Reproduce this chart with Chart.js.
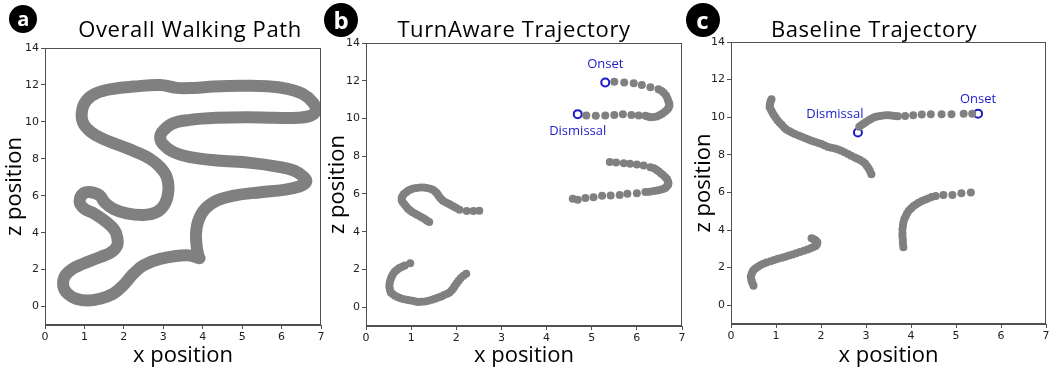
<!DOCTYPE html>
<html>
<head>
<meta charset="utf-8">
<script src="https://cdn.jsdelivr.net/npm/chart.js@4.4.1/dist/chart.umd.min.js"></script>
<style>
  html, body { margin:0; padding:0; background:#fff; }
  body { width:1052px; height:371px; position:relative; overflow:hidden; font-family:"Open Sans", "Noto Sans", sans-serif; }
  .panel { position:absolute; }
  .ptitle { position:absolute; font-size:22px; letter-spacing:0.6px; line-height:1; color:#000; white-space:nowrap; transform:translateX(-50%); }
  .badge { position:absolute; border-radius:50%; background:#000; color:#fff; font-weight:700;
           display:flex; align-items:center; justify-content:center; line-height:1; }
</style>
</head>
<body>
<script>
// ---------------- DATA ----------------
const xTicks = [0, 1, 2, 3, 4, 5, 6, 7];
const zTicks = [0, 2, 4, 6, 8, 10, 12, 14];

// Panel a: overall walking path [x, z]
const walkPath = [
  [3.92,2.62],[3.60,2.78],[2.92,2.58],[2.49,2.22],[2.24,1.77],[1.98,1.14],[1.73,0.69],[1.39,0.42],
  [1.09,0.32],[0.79,0.42],[0.58,0.69],[0.47,1.05],[0.49,1.59],[0.66,1.99],[0.96,2.31],[1.39,2.67],
  [1.68,2.94],[1.83,3.30],[1.83,3.75],[1.77,4.12],[1.56,4.57],[1.26,5.02],[1.00,5.29],[0.88,5.65],
  [0.96,6.10],[1.17,6.19],[1.39,6.01],[1.51,5.65],[1.73,5.29],[2.07,5.05],[2.49,4.96],[2.83,5.11],
  [3.04,5.56],[3.13,6.28],[3.09,7.00],[2.92,7.55],[2.66,8.00],[2.32,8.36],[1.90,8.72],[1.47,9.08],
  [1.17,9.44],[0.96,9.98],[0.94,10.61],[1.05,11.16],[1.30,11.55],[1.73,11.79],[2.24,11.91],[2.92,12.00],
  [3.34,11.84],[3.77,11.84],[4.28,11.91],[4.96,11.95],[5.64,11.93],[6.15,11.79],[6.53,11.52],[6.79,11.06],
  [6.87,10.61],[6.74,10.34],[6.40,10.22],[5.81,10.22],[5.13,10.25],[4.36,10.22],[3.68,10.11],[3.26,9.93],
  [3.00,9.53],[2.92,9.17],[3.00,8.77],[3.26,8.36],[3.68,8.09],[4.36,7.91],[5.21,7.78],[5.89,7.58],
  [6.32,7.36],[6.57,7.00],[6.62,6.73],[6.45,6.50],[6.06,6.32],[5.47,6.19],[4.79,6.01],[4.36,5.74],
  [4.06,5.29],[3.89,4.66],[3.83,3.94],[3.85,3.21],[3.90,2.66]
];

// Panel b: TurnAware trajectory segments [x, z]
const taSeg1 = [
  [5.50,11.94],[5.72,11.91],[5.93,11.87],[6.11,11.78],[6.30,11.66],[6.48,11.55],[6.55,11.45],[6.60,11.35],
  [6.65,11.20],[6.68,11.05],[6.70,10.90],[6.72,10.78],[6.72,10.67],[6.70,10.56],[6.67,10.46],[6.62,10.35],
  [6.56,10.25],[6.50,10.17],[6.44,10.11],[6.37,10.08],[6.30,10.07],[6.24,10.10],[6.19,10.14],[6.04,10.16],
  [5.88,10.19],[5.69,10.23],[5.50,10.19],[5.30,10.16],[5.09,10.14],[4.88,10.16]
];
const taSeg2 = [
  [5.40,7.69],[5.54,7.67],[5.71,7.63],[5.85,7.60],[6.00,7.56],[6.15,7.51],[6.30,7.42],[6.38,7.36],
  [6.43,7.28],[6.48,7.20],[6.53,7.10],[6.58,7.00],[6.63,6.89],[6.67,6.78],[6.69,6.66],[6.70,6.57],
  [6.69,6.48],[6.66,6.40],[6.63,6.31],[6.58,6.26],[6.52,6.22],[6.45,6.18],[6.37,6.15],[6.28,6.12],
  [6.19,6.10],[6.00,6.04],[5.79,6.01],[5.62,5.95],[5.42,5.92],[5.23,5.90],[5.04,5.83],[4.86,5.79],
  [4.69,5.69],[4.58,5.74]
];
const taSeg3 = [
  [1.40,4.51],[1.35,4.58],[1.31,4.66],[1.25,4.74],[1.20,4.81],[1.14,4.88],[1.09,4.95],[1.03,5.03],
  [0.98,5.12],[0.93,5.22],[0.89,5.34],[0.85,5.45],[0.81,5.57],[0.79,5.68],[0.79,5.78],[0.81,5.89],
  [0.84,5.99],[0.89,6.09],[0.94,6.18],[0.99,6.24],[1.05,6.29],[1.12,6.32],[1.20,6.34],[1.28,6.34],
  [1.35,6.31],[1.42,6.27],[1.48,6.22],[1.53,6.13],[1.57,6.04],[1.60,5.93],[1.63,5.83],[1.67,5.72],
  [1.71,5.62],[1.77,5.55],[1.83,5.48],[1.88,5.41],[1.94,5.34],[2.00,5.25],[2.07,5.16],[2.23,5.09],
  [2.38,5.09],[2.51,5.11]
];
const taSeg4 = [
  [0.98,2.33],[0.86,2.21],[0.80,2.14],[0.74,2.07],[0.69,1.98],[0.64,1.89],[0.60,1.76],[0.57,1.63],
  [0.55,1.50],[0.53,1.36],[0.52,1.21],[0.52,1.06],[0.53,0.92],[0.55,0.78],[0.59,0.69],[0.64,0.60],
  [0.70,0.54],[0.75,0.48],[0.82,0.43],[0.90,0.39],[0.96,0.36],[1.03,0.34],[1.10,0.30],[1.16,0.27],
  [1.23,0.28],[1.31,0.30],[1.38,0.34],[1.46,0.39],[1.53,0.45],[1.60,0.51],[1.67,0.57],[1.73,0.64],
  [1.80,0.71],[1.85,0.78],[1.90,0.89],[1.94,1.01],[1.97,1.14],[2.01,1.27],[2.05,1.40],[2.10,1.54],
  [2.16,1.66],[2.22,1.77]
];
const taOnset = [5.30, 11.91];
const taDismissal = [4.69, 10.23];

// Panel c: Baseline trajectory segments [x, z]
const blSeg1 = [
  [5.36,10.19],[5.17,10.19],[4.90,10.16],[4.68,10.16],[4.44,10.16],[4.24,10.14],[4.05,10.11],[3.87,10.07],
  [3.71,10.05],[3.64,10.07],[3.57,10.09],[3.50,10.10],[3.43,10.10],[3.35,10.08],[3.28,10.05],[3.22,10.02],
  [3.17,9.98],[3.11,9.91],[3.06,9.84],[3.00,9.75],[2.95,9.66],[2.90,9.58],[2.85,9.49]
];
const blSeg2 = [
  [0.90,10.96],[0.88,10.85],[0.87,10.73],[0.86,10.62],[0.86,10.51],[0.89,10.38],[0.92,10.25],[0.95,10.12],
  [0.99,9.98],[1.03,9.84],[1.08,9.70],[1.13,9.58],[1.18,9.45],[1.23,9.35],[1.29,9.26],[1.35,9.18],
  [1.42,9.10],[1.50,9.03],[1.57,8.96],[1.65,8.88],[1.72,8.81],[1.79,8.75],[1.86,8.69],[1.94,8.63],
  [2.01,8.57],[2.08,8.50],[2.16,8.42],[2.23,8.38],[2.31,8.34],[2.38,8.28],[2.45,8.21],[2.52,8.13],
  [2.60,8.04],[2.67,7.95],[2.75,7.86],[2.81,7.79],[2.87,7.72],[2.93,7.63],[2.98,7.54],[3.02,7.40],
  [3.06,7.27],[3.09,7.12],[3.12,6.97]
];
const blSeg3 = [
  [5.33,6.00],[5.12,5.95],[4.92,5.86],[4.72,5.86],[4.55,5.81],[4.46,5.75],[4.38,5.68],[4.31,5.61],
  [4.24,5.54],[4.17,5.45],[4.11,5.36],[4.05,5.26],[4.00,5.15],[3.95,5.02],[3.91,4.88],[3.88,4.72],
  [3.85,4.57],[3.83,4.39],[3.82,4.21],[3.81,4.02],[3.81,3.82],[3.81,3.65],[3.82,3.47],[3.82,3.28],
  [3.83,3.08]
];
const blSeg4 = [
  [0.50,1.03],[0.48,1.15],[0.46,1.26],[0.45,1.39],[0.44,1.52],[0.46,1.66],[0.48,1.79],[0.51,1.88],
  [0.55,1.96],[0.60,2.05],[0.66,2.14],[0.72,2.21],[0.79,2.27],[0.88,2.34],[0.96,2.41],[1.04,2.47],
  [1.13,2.53],[1.21,2.58],[1.29,2.64],[1.37,2.70],[1.45,2.76],[1.53,2.83],[1.62,2.90],[1.70,2.96],
  [1.77,3.03],[1.83,3.09],[1.88,3.15],[1.91,3.24],[1.92,3.33],[1.90,3.40],[1.87,3.47],[1.83,3.52],
  [1.79,3.56]
];
const blOnset = [5.49, 10.19];
const blDismissal = [2.82, 9.19];

const panelTitles = ['Overall Walking Path', 'TurnAware Trajectory', 'Baseline Trajectory'];
const panelLetters = ['a', 'b', 'c'];
const xAxisLabel = 'x position';
const zAxisLabel = 'z position';
const onsetText = 'Onset';
const dismissalText = 'Dismissal';

// ---------------- STYLE ----------------
const GRAY = '#808080';
const BLUE = '#1c1cc8';
const AXIS = '#505050';
const TICKFONT = { family: 'DejaVu Sans', size: 11 };
const TITLEFONT = { family: 'Open Sans', size: 22 };

const toXY = arr => arr.map(p => ({ x: p[0], y: p[1] }));

const framePlugin = {
  id: 'frame',
  afterDraw(chart) {
    const { ctx, chartArea: a } = chart;
    ctx.save();
    ctx.strokeStyle = AXIS;
    ctx.lineWidth = 1;
    ctx.strokeRect(Math.round(a.left) + 0.5, Math.round(a.top) + 0.5,
                   Math.round(a.right - a.left) - 1, Math.round(a.bottom - a.top) - 1);
    ctx.restore();
  }
};

const markLabelPlugin = {
  id: 'markLabels',
  afterDraw(chart, args, opts) {
    const items = opts.items || [];
    const { ctx } = chart;
    ctx.save();
    ctx.fillStyle = BLUE;
    ctx.font = '13px "Open Sans", sans-serif';
    ctx.textAlign = 'center';
    ctx.textBaseline = 'middle';
    items.forEach(it => {
      const px = chart.scales.x.getPixelForValue(it.at[0]) + it.dx;
      const py = chart.scales.y.getPixelForValue(it.at[1]) + it.dy;
      ctx.fillText(it.text, px, py);
    });
    ctx.restore();
  }
};

function makePanel(geo, datasets, labels) {
  const div = document.createElement('div');
  div.className = 'panel';
  div.style.left = geo.left + 'px';
  div.style.top = '0px';
  div.style.width = geo.width + 'px';
  div.style.height = '371px';
  const cv = document.createElement('canvas');
  div.appendChild(cv);
  document.body.appendChild(div);

  new Chart(cv, {
    type: 'scatter',
    data: { datasets },
    plugins: [framePlugin, markLabelPlugin],
    options: {
      animation: false,
      responsive: true,
      maintainAspectRatio: false,
      events: [],
      layout: { padding: { top: geo.padTop, right: geo.padRight, left: 0, bottom: 0 } },
      plugins: {
        legend: { display: false },
        tooltip: { enabled: false },
        markLabels: { items: labels }
      },
      scales: {
        x: {
          type: 'linear', min: 0, max: 7,
          afterBuildTicks: s => { s.ticks = xTicks.map(v => ({ value: v })); },
          afterFit: s => { s.height = geo.xH; },
          ticks: { autoSkip: false, maxRotation: 0, font: TICKFONT, color: '#222', padding: 2,
                   callback: v => String(v) },
          grid: { drawOnChartArea: false, drawTicks: true, tickLength: 4, color: AXIS },
          border: { display: true, color: AXIS },
          title: { display: true, text: xAxisLabel, font: TITLEFONT, color: '#000',
                   padding: { top: 0, bottom: 2 } }
        },
        y: {
          type: 'linear', min: -1, max: 14,
          afterBuildTicks: s => { s.ticks = zTicks.map(v => ({ value: v })); },
          afterFit: s => { s.width = geo.yW; },
          ticks: { autoSkip: false, font: TICKFONT, color: '#222', padding: 2,
                   callback: v => String(v) },
          grid: { drawOnChartArea: false, drawTicks: true, tickLength: 4, color: AXIS },
          border: { display: true, color: AXIS },
          title: { display: true, text: zAxisLabel, font: TITLEFONT, color: '#000',
                   padding: { top: geo.yTitlePad, bottom: 0 } }
        }
      }
    }
  });
}

function dotSet(seg) {
  return { data: toXY(seg), pointRadius: 4, pointBackgroundColor: GRAY, pointBorderWidth: 0,
           pointBorderColor: GRAY, showLine: false };
}
function ringSet(pt) {
  return { data: toXY([pt]), pointRadius: 4, pointBackgroundColor: '#ffffff', pointBorderWidth: 2,
           pointBorderColor: BLUE, showLine: false };
}

// Panel a
makePanel({ left: 0, width: 330, padTop: 48, padRight: 9, yW: 45, xH: 46, yTitlePad: 2 },
  [{ data: toXY(walkPath), showLine: true, pointRadius: 0, borderColor: GRAY, borderWidth: 12,
     tension: 0.4, borderCapStyle: 'round', borderJoinStyle: 'round', fill: false }], []);

// Panel b
makePanel({ left: 325, width: 365, padTop: 43, padRight: 8, yW: 41, xH: 45, yTitlePad: 0 },
  [dotSet(taSeg1), dotSet(taSeg2), dotSet(taSeg3), dotSet(taSeg4), ringSet(taOnset), ringSet(taDismissal)],
  [{ at: taOnset, text: onsetText, dx: 0, dy: -18 }, { at: taDismissal, text: dismissalText, dx: 0, dy: 17 }]);

// Panel c
makePanel({ left: 691, width: 361, padTop: 42, padRight: 5, yW: 40, xH: 47, yTitlePad: 0 },
  [dotSet(blSeg1), dotSet(blSeg2), dotSet(blSeg3), dotSet(blSeg4), ringSet(blOnset), ringSet(blDismissal)],
  [{ at: blOnset, text: onsetText, dx: 0, dy: -14 }, { at: blDismissal, text: dismissalText, dx: -23, dy: -18 }]);

// Titles and badges
const titleCenters = [190, 514, 874];
panelTitles.forEach((t, i) => {
  const d = document.createElement('div');
  d.className = 'ptitle';
  d.style.left = titleCenters[i] + 'px';
  d.style.top = '17px';
  d.textContent = t;
  document.body.appendChild(d);
});
const badgeGeo = [ { cx: 23.3, cy: 18.7, r: 14, fs: 20 }, { cx: 341, cy: 19.5, r: 17, fs: 24 }, { cx: 702.5, cy: 20, r: 17, fs: 24 } ];
panelLetters.forEach((l, i) => {
  const g = badgeGeo[i];
  const d = document.createElement('div');
  d.className = 'badge';
  d.style.left = (g.cx - g.r) + 'px';
  d.style.top = (g.cy - g.r) + 'px';
  d.style.width = (2 * g.r) + 'px';
  d.style.height = (2 * g.r) + 'px';
  d.style.fontSize = g.fs + 'px';
  d.textContent = l;
  document.body.appendChild(d);
});
</script>
</body>
</html>
